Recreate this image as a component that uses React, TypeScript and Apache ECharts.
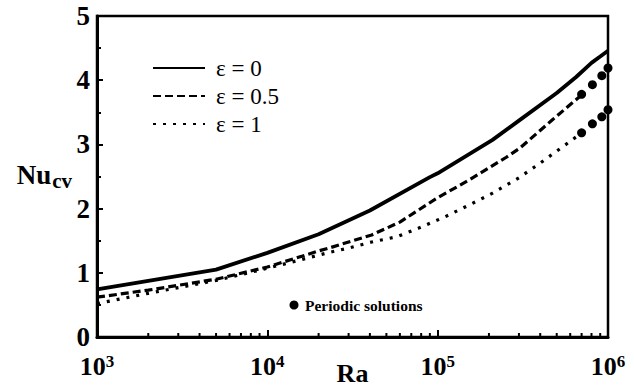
import React, { useEffect, useRef } from "react";
import * as echarts from "echarts";

const seriesNames = ["ε = 0", "ε = 0.5", "ε = 1"];

const ra0 = [1e3, 5e3, 1e4, 2e4, 4e4, 9e4, 1e5, 2.1e5, 3e5, 5e5, 6.5e5, 8e5, 9e5, 1e6];
const nu0 = [0.74, 1.05, 1.31, 1.6, 1.97, 2.49, 2.55, 3.07, 3.37, 3.8, 4.05, 4.27, 4.37, 4.46];

const ra05 = [1e3, 2e3, 5e3, 1e4, 2e4, 2.33e4, 4.1e4, 6e4, 1e5, 1.54e5, 2.53e5, 3.03e5, 4.7e5, 7e5];
const nu05 = [0.62, 0.73, 0.9, 1.09, 1.34, 1.39, 1.59, 1.79, 2.17, 2.45, 2.8, 2.94, 3.38, 3.77];

const ra1 = [1e3, 2e3, 5e3, 1e4, 2.33e4, 3.05e4, 4.1e4, 5.75e4, 7.8e4, 1.1e5, 1.54e5, 2.1e5, 3e5, 4e5, 5.6e5, 7e5];
const nu1 = [0.52, 0.68, 0.88, 1.07, 1.32, 1.39, 1.48, 1.56, 1.7, 1.87, 2.06, 2.24, 2.48, 2.71, 2.99, 3.18];

const periodicRa = [7e5, 8.1e5, 9.2e5, 1e6];
const periodicNu05 = [3.78, 3.93, 4.07, 4.19];
const periodicNu1 = [3.18, 3.32, 3.43, 3.54];

const xMin = 1e3;
const xMax = 1e6;
const yTicks = [0, 1, 2, 3, 4, 5];
const minorX = [2, 3, 4, 5, 6, 7, 8, 9].flatMap((m) => [m * 1e3, m * 1e4, m * 1e5]);

const serif = "Liberation Serif";

const zip = (xs: number[], ys: number[]) => xs.map((x, i) => [x, ys[i]]);

export default function App() {
  const ref = useRef<HTMLDivElement>(null);
  useEffect(() => {
    if (!ref.current) return;
    const chart = echarts.init(ref.current, null, { renderer: "svg" });
    const supMap: Record<number, string> = { 1e3: "3", 1e4: "4", 1e5: "5", 1e6: "6" };
    chart.setOption({
      animation: false,
      backgroundColor: "#fff",
      grid: {
        left: 97,
        right: 26,
        top: 16,
        bottom: 55,
        containLabel: false,
        outerBoundsMode: "none",
        show: true,
        borderColor: "#000",
        borderWidth: 2.5,
      },
      legend: {
        orient: "vertical",
        left: 152,
        top: 56,
        padding: 0,
        itemWidth: 52,
        itemHeight: 14,
        itemGap: 4,
        data: seriesNames,
        itemStyle: { opacity: 0 },
        textStyle: {
          fontFamily: serif,
          fontSize: 23,
          color: "#000",
          lineHeight: 24,
          padding: [0, 0, 0, 6],
        },
      },
      xAxis: {
        type: "log",
        logBase: 10,
        min: xMin,
        max: xMax,
        name: "Ra",
        nameLocation: "middle",
        nameGap: 23,
        nameMoveOverlap: false,
        nameTextStyle: { fontFamily: serif, fontSize: 26, fontWeight: "bold", color: "#000", lineHeight: 26 },
        axisLine: { lineStyle: { color: "#000", width: 3 } },
        axisTick: { inside: true, length: 7, lineStyle: { color: "#000", width: 2 } },
        splitLine: { show: false },
        axisLabel: {
          margin: 16,
          formatter: (v: number) => `{b|10}{s|${supMap[Math.round(v)] ?? ""}}`,
          rich: {
            b: { fontFamily: serif, fontSize: 26, fontWeight: "bold", color: "#000", lineHeight: 26, verticalAlign: "bottom" },
            s: { fontFamily: serif, fontSize: 17, fontWeight: "bold", color: "#000", lineHeight: 26, verticalAlign: "top", padding: [0, 0, 8, 0] },
          },
        },
      },
      yAxis: {
        type: "value",
        min: 0,
        max: 5,
        interval: 1,
        name: "{n|Nu}{s|cv}",
        nameLocation: "middle",
        nameRotate: 0,
        nameGap: 25,
        nameMoveOverlap: false,
        nameTextStyle: {
          rich: {
            n: { fontFamily: serif, fontSize: 27, fontWeight: "bold", color: "#000", lineHeight: 30, verticalAlign: "top" },
            s: { fontFamily: serif, fontSize: 21, fontWeight: "bold", color: "#000", lineHeight: 30, verticalAlign: "bottom", padding: [14, 0, 0, 1] },
          },
        },
        axisLine: { show: true, lineStyle: { color: "#000", width: 3 } },
        axisTick: { show: true, inside: true, length: 6, lineStyle: { color: "#000", width: 2 } },
        minorTick: { show: true, splitNumber: 2, length: 4, lineStyle: { color: "#000", width: 2 } },
        splitLine: { show: false },
        axisLabel: {
          margin: 7,
          fontFamily: serif,
          fontSize: 27,
          fontWeight: "bold",
          color: "#000",
          formatter: (v: number) => (yTicks.includes(v) ? String(v) : ""),
        },
      },
      series: [
        {
          name: seriesNames[0],
          type: "line",
          symbol: "none",
          data: zip(ra0, nu0),
          lineStyle: { color: "#000", width: 3.8, type: "solid" },
          itemStyle: { color: "#000" },
        },
        {
          name: seriesNames[1],
          type: "line",
          symbol: "none",
          data: zip(ra05, nu05),
          lineStyle: { color: "#000", width: 3.2, type: [8, 4] },
          itemStyle: { color: "#000" },
        },
        {
          name: seriesNames[2],
          type: "line",
          symbol: "none",
          data: zip(ra1, nu1),
          lineStyle: { color: "#000", width: 3.2, type: [3, 7] },
          itemStyle: { color: "#000" },
        },
        {
          name: "periodic 0.5",
          type: "scatter",
          symbol: "circle",
          symbolSize: 9,
          clip: false,
          data: zip(periodicRa, periodicNu05),
          itemStyle: { color: "#000", opacity: 1 },
        },
        {
          name: "periodic 1",
          type: "scatter",
          symbol: "circle",
          symbolSize: 9,
          clip: false,
          data: zip(periodicRa, periodicNu1),
          itemStyle: { color: "#000", opacity: 1 },
        },
        {
          name: "minor ticks",
          type: "custom",
          silent: true,
          clip: false,
          z: 5,
          data: minorX.map((v) => [v, 0]),
          renderItem: (_p: any, api: any) => {
            const pt = api.coord([api.value(0), 0]);
            return {
              type: "line",
              shape: { x1: pt[0], y1: pt[1], x2: pt[0], y2: pt[1] - 4 },
              style: { stroke: "#000", lineWidth: 2 },
            };
          },
        },
      ],
      graphic: [
        { type: "circle", shape: { cx: 294, cy: 305, r: 4.5 }, style: { fill: "#000" } },
        {
          type: "text",
          x: 305,
          y: 305,
          style: {
            text: "Periodic solutions",
            fontFamily: serif,
            fontSize: 15.5,
            fontWeight: "bold",
            fill: "#000",
            verticalAlign: "middle",
          },
        },
      ],
    });
    return () => chart.dispose();
  }, []);
  return <div ref={ref} style={{ width: 634, height: 392, position: "absolute", left: 0, top: 0 }} />;
}
